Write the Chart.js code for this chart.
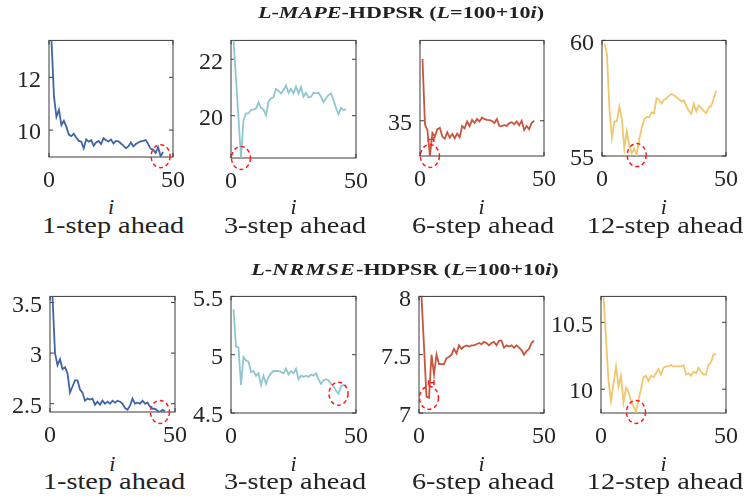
<!DOCTYPE html>
<html>
<head>
<meta charset="utf-8">
<script src="https://cdn.jsdelivr.net/npm/chart.js"></script>
<style>
  body { margin: 0; background: #fff; }
  #fig { position: relative; width: 745px; height: 504px; overflow: hidden;
         font-family: "Liberation Serif", "Times New Roman", serif; color: #222; }
  #fig canvas { position: absolute; }
  .lbl { position: absolute; white-space: nowrap; line-height: 1; }
  .spaced { letter-spacing: 1px; }
</style>
</head>
<body>
<div id="fig"></div>
<script>
// i = 1..46, window length L = 100 + 10i
const xTicks = [0, 50];
const steps = ["1-step ahead", "3-step ahead", "6-step ahead", "12-step ahead"];

const mape1 = [13.4, 11.28, 10.5, 10.77, 10.19, 10.35, 10.13, 9.83, 9.77, 9.86, 9.71, 9.59, 9.56, 9.31, 9.65, 9.56,
  9.62, 9.41, 9.53, 9.59, 9.47, 9.69, 9.62, 9.57, 9.64, 9.49, 9.59, 9.57, 9.49, 9.41, 9.31, 9.38, 9.53, 9.38, 9.47,
  9.53, 9.57, 9.59, 9.62, 9.47, 9.29, 9.26, 9.13, 9.35, 9.01, 9.17];
const mape3 = [22.67, 21.3, 19.92, 18.5, 19.83, 20.08, 20.08, 20.2, 20.22, 20.25, 20.47, 20.28, 20.22, 20.02, 20.5,
  20.62, 20.65, 20.95, 20.88, 20.79, 20.9, 21.07, 20.81, 20.95, 20.79, 21.03, 20.79, 21.01, 20.67, 20.81, 20.65,
  20.67, 20.81, 20.79, 20.81, 20.67, 20.48, 20.62, 20.73, 20.79, 20.56, 20.28, 20.05, 20.28, 20.2, 20.22];
const mape6 = [38.5, 34.8, 34.45, 33.0, 34.3, 34.1, 34.52, 34.6, 34.1, 33.98, 34.34, 34.04, 34.25, 34.0, 34.28, 34.07,
  34.7, 34.57, 34.96, 34.7, 35.05, 34.87, 35.1, 34.96, 35.18, 35.09, 35.05, 35.03, 35.0, 34.87, 35.1, 34.71, 34.7,
  34.75, 34.71, 34.87, 34.92, 34.8, 34.96, 34.75, 35.0, 34.47, 34.7, 34.52, 34.87, 35.0];
const mape12 = [59.86, 59.41, 57.02, 55.79, 56.5, 56.5, 57.13, 56.59, 55.32, 56.07, 55.45, 55.11, 55.32, 55.04, 55.72,
  56.18, 56.59, 56.68, 56.68, 56.89, 56.85, 57.5, 57.43, 57.27, 57.43, 57.5, 57.6, 57.68, 57.63, 57.54, 57.46, 57.36,
  57.4, 57.16, 56.95, 56.82, 57.27, 56.93, 57.18, 57.09, 56.95, 56.85, 57.09, 57.16, 57.46, 57.82];

const nrmse1 = [3.56, 3.0, 2.88, 2.94, 2.84, 2.86, 2.8, 2.61, 2.67, 2.73, 2.73, 2.64, 2.61, 2.53, 2.55, 2.54, 2.55, 2.49,
  2.52, 2.49, 2.53, 2.5, 2.52, 2.5, 2.53, 2.51, 2.53, 2.52, 2.5, 2.456, 2.44, 2.48, 2.55, 2.5, 2.51, 2.5, 2.53, 2.5,
  2.51, 2.47, 2.45, 2.45, 2.43, 2.418, 2.44, 2.425];
const nrmse3 = [5.39, 5.07, 5.06, 4.74, 4.98, 4.95, 4.94, 4.85, 4.86, 4.82, 4.84, 4.74, 4.82, 4.75, 4.81, 4.84, 4.86,
  4.86, 4.86, 4.85, 4.84, 4.88, 4.83, 4.86, 4.84, 4.88, 4.79, 4.82, 4.81, 4.82, 4.81, 4.83, 4.82, 4.84, 4.79, 4.75,
  4.78, 4.79, 4.78, 4.75, 4.73, 4.69, 4.665, 4.73, 4.74, 4.73];
const nrmse6 = [8.0, 7.57, 7.14, 7.13, 7.5, 7.33, 7.5, 7.42, 7.42, 7.42, 7.47, 7.48, 7.5, 7.55, 7.51, 7.58, 7.55, 7.57,
  7.58, 7.57, 7.58, 7.58, 7.59, 7.6, 7.59, 7.61, 7.6, 7.58, 7.6, 7.61, 7.58, 7.62, 7.62, 7.56, 7.58, 7.57, 7.58, 7.56,
  7.58, 7.56, 7.54, 7.5, 7.53, 7.55, 7.6, 7.62];
const nrmse12 = [10.69, 10.38, 10.06, 9.91, 10.04, 10.17, 10.02, 10.1, 9.9, 10.01, 9.98, 9.91, 9.87, 9.83, 9.92, 10.0,
  10.09, 10.1, 10.06, 10.1, 10.09, 10.12, 10.15, 10.11, 10.16, 10.17, 10.17, 10.18, 10.17, 10.17, 10.17, 10.17, 10.18,
  10.11, 10.12, 10.1, 10.13, 10.12, 10.16, 10.13, 10.11, 10.11, 10.18, 10.2, 10.26, 10.26];

// axis limits and ticks, one entry per horizon
const mapeLimits = [[8.98, 13.4], [18.5, 22.67], [33.0, 39.56], [55, 60]];
const mapeTicks = [[10, 12], [20, 22], [35], [55, 60]];
const nrmseLimits = [[2.418, 3.56], [4.5, 5.5], [7, 8], [9.822, 10.694]];
const nrmseTicks = [[2.5, 3, 3.5], [4.5, 5, 5.5], [7, 7.5, 8], [10, 10.5]];

// short interval bars near the 6-step minimum: [from i, to i, value]
const mape6Bar = [3.3, 5.6, 33.93];
const nrmse6Bar = [3.8, 6.0, 7.26];

const colors = ["#4064a8", "#8fc6d0", "#c8553d", "#f2c66d"];
const axisColor = "#3a3a3a";
const textColor = "#262626";
const serif = '"Liberation Serif", "Times New Roman", serif';

const fig = document.getElementById("fig");

// plot boxes (left, top, right, bottom)
const boxes = [
  [49, 34, 176, 157], [231, 34, 359, 157.5], [419.5, 34, 546.5, 156], [601.5, 34, 729, 156],
  [50, 290, 177.5, 412], [231, 290, 359, 413], [419, 290, 547, 412.5], [601, 290, 729, 412.7]
];

const panels = [
  { values: mape1, limits: mapeLimits[0], ticks: mapeTicks[0] },
  { values: mape3, limits: mapeLimits[1], ticks: mapeTicks[1] },
  { values: mape6, limits: mapeLimits[2], ticks: mapeTicks[2], bar: mape6Bar },
  { values: mape12, limits: mapeLimits[3], ticks: mapeTicks[3] },
  { values: nrmse1, limits: nrmseLimits[0], ticks: nrmseTicks[0] },
  { values: nrmse3, limits: nrmseLimits[1], ticks: nrmseTicks[1] },
  { values: nrmse6, limits: nrmseLimits[2], ticks: nrmseTicks[2], bar: nrmse6Bar },
  { values: nrmse12, limits: nrmseLimits[3], ticks: nrmseTicks[3] }
];

// axes box with inward tick marks on both sides
const boxPlugin = {
  id: "axesBox",
  beforeDatasetsDraw(chart) {
    const { ctx, chartArea: a } = chart;
    const y = chart.scales.y, x = chart.scales.x;
    ctx.save();
    ctx.strokeStyle = axisColor;
    ctx.lineWidth = 1;
    ctx.strokeRect(a.left, a.top, a.right - a.left, a.bottom - a.top);
    ctx.beginPath();
    y.ticks.forEach(t => {
      const py = y.getPixelForValue(t.value);
      ctx.moveTo(a.left, py); ctx.lineTo(a.left + 4, py);
      ctx.moveTo(a.right, py); ctx.lineTo(a.right - 4, py);
    });
    x.ticks.forEach(t => {
      const px = x.getPixelForValue(t.value);
      ctx.moveTo(px, a.bottom); ctx.lineTo(px, a.bottom - 4);
      ctx.moveTo(px, a.top); ctx.lineTo(px, a.top + 4);
    });
    ctx.stroke();
    ctx.restore();
  }
};

// dashed ellipse around the lowest point of the curve
const minPlugin = {
  id: "minRing",
  afterDatasetsDraw(chart) {
    const vals = chart.data.datasets[0].data;
    let k = 0;
    vals.forEach((p, j) => { if (p.y < vals[k].y) k = j; });
    const el = chart.getDatasetMeta(0).data[k];
    const ctx = chart.ctx;
    ctx.save();
    ctx.strokeStyle = "#ff1a1a";
    ctx.lineWidth = 1.5;
    ctx.setLineDash([4, 3]);
    ctx.beginPath();
    ctx.ellipse(el.x, el.y, 9.5, 11.5, 0, 0, Math.PI * 2);
    ctx.stroke();
    ctx.restore();
  }
};

const padL = 56, padT = 16, padR = 18, padB = 36;
const tickFont = { family: serif, size: 24 };

panels.forEach((p, n) => {
  const b = boxes[n];
  const left = Math.round(b[0]) - padL, top = Math.round(b[1]) - padT;
  const w = Math.round(b[2]) - Math.round(b[0]) + padL + padR;
  const h = Math.round(b[3]) - Math.round(b[1]) + padT + padB;
  const canvas = document.createElement("canvas");
  canvas.width = w; canvas.height = h;
  canvas.style.left = left + "px"; canvas.style.top = top + "px";
  canvas.style.width = w + "px"; canvas.style.height = h + "px";
  fig.appendChild(canvas);

  const datasets = [{
    data: p.values.map((v, j) => ({ x: j + 1, y: v })),
    borderColor: colors[n % 4],
    borderWidth: 1.8,
    pointRadius: 0,
    tension: 0
  }];
  if (p.bar) {
    datasets.push({
      data: [{ x: p.bar[0], y: p.bar[2] }, { x: p.bar[1], y: p.bar[2] }],
      borderColor: "#e8202a",
      borderWidth: 1.5,
      pointStyle: "line",
      rotation: 90,
      pointRadius: 2.5,
      pointBorderWidth: 1.5,
      pointBorderColor: "#e8202a"
    });
  }

  new Chart(canvas, {
    type: "line",
    data: { datasets },
    options: {
      responsive: false,
      animation: false,
      events: [],
      layout: { padding: { top: padT, right: padR, left: 0, bottom: 0 } },
      plugins: { legend: { display: false }, tooltip: { enabled: false } },
      scales: {
        x: {
          type: "linear", min: 0, max: 50,
          afterBuildTicks: s => { s.ticks = xTicks.map(v => ({ value: v })); },
          afterFit: s => { s.height = padB; },
          grid: { display: false, drawTicks: false },
          border: { display: false },
          ticks: { font: tickFont, color: textColor, padding: 9, maxRotation: 0, callback: v => String(v) }
        },
        y: {
          type: "linear", min: p.limits[0], max: p.limits[1],
          afterBuildTicks: s => { s.ticks = p.ticks.map(v => ({ value: v })); },
          afterFit: s => { s.width = padL; },
          grid: { display: false, drawTicks: false },
          border: { display: false },
          ticks: { font: tickFont, color: textColor, padding: 8, labelOffset: 3, callback: v => String(v) }
        }
      }
    },
    plugins: [boxPlugin, minPlugin]
  });
});

// text placed by its baseline; Liberation Serif baseline sits 0.8375em below the top at line-height 1
function label(html, cx, baseline, size, style) {
  const d = document.createElement("div");
  d.className = "lbl";
  d.innerHTML = html;
  d.style.fontSize = size + "px";
  d.style.left = cx + "px";
  d.style.top = (baseline - 0.8375 * size) + "px";
  d.style.transform = "translateX(-50%) scaleX(" + (style.stretch || 1) + ")";
  if (style.bold) d.style.fontWeight = "bold";
  if (style.italic) d.style.fontStyle = "italic";
  fig.appendChild(d);
}

label("<i>L</i>-<i>MAPE</i>-HDPSR (<i>L</i>=100+10<i>i</i>)", 400.7, 18.5, 17, { bold: true, stretch: 1.3 });
label("<i>L</i>-<i class=\"spaced\">NRMSE</i>-HDPSR (<i>L</i>=100+10<i>i</i>)", 405, 275.5, 17, { bold: true, stretch: 1.3 });

boxes.forEach((b, n) => {
  const cx = (b[0] + b[2]) / 2;
  const row = n < 4 ? 0 : 1;
  label("i", cx - 1.5, row ? 471.7 : 214, 22, { italic: true });
  label(steps[n % 4], cx, row ? 489.5 : 233, 23, { stretch: 1.23 });
});
</script>
</body>
</html>
